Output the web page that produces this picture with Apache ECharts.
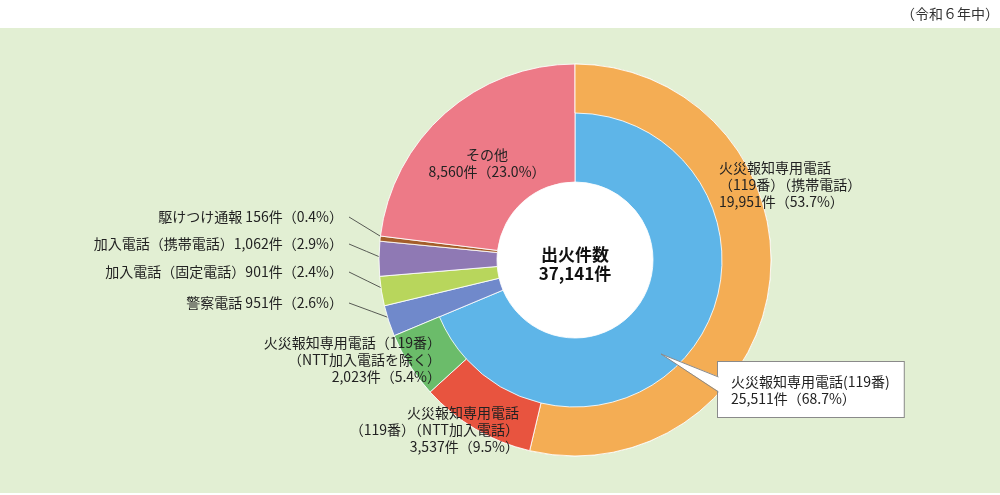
<!DOCTYPE html>
<html><head><meta charset="utf-8">
<script src="https://cdn.jsdelivr.net/npm/echarts@6/dist/echarts.min.js"></script>
<style>html,body{margin:0;padding:0;background:#fff}#c{width:1000px;height:495px}</style>
</head><body><div id="c"></div>
<script>
// ---- data ----
const totalLabel = '出火件数';
const totalCount = 37141;
const periodLabel = '（令和６年中）';

const innerNames = ['火災報知専用電話(119番)', '警察電話', '加入電話（固定電話）', '加入電話（携帯電話）', '駆けつけ通報', 'その他'];
const innerValues = [25511, 951, 901, 1062, 156, 8560];
const innerPercents = [68.7, 2.6, 2.4, 2.9, 0.4, 23.0];

const outerNames = ['火災報知専用電話\n（119番）（携帯電話）', '火災報知専用電話\n（119番）（NTT加入電話）', '火災報知専用電話（119番）\n（NTT加入電話を除く）'];
const outerValues = [19951, 3537, 2023];
const outerPercents = [53.7, 9.5, 5.4];

// ---- styles / layout ----
const innerColors = ['#5EB5E8', '#7089CB', '#B8D65C', '#8F79B4', '#A45E2A', '#ED7A87'];
const outerColors = ['#F4AD54', '#E8543F', '#6BBC6A'];
const CX = 575, CY = 260, R0 = 78, R1 = 147, R2 = 196;
const FONT = '"Noto Sans CJK JP", "Noto Sans", sans-serif';
const TXT = '#222';

const innerLabelPos = [
  {x: 718, y: 362, align: 'left', va: 'top'},
  {x: 343, y: 303, align: 'right', va: 'middle', line: true},
  {x: 343, y: 272, align: 'right', va: 'middle', line: true},
  {x: 343, y: 244, align: 'right', va: 'middle', line: true},
  {x: 343, y: 217, align: 'right', va: 'middle', line: true},
  {x: 487, y: 163, align: 'center', va: 'middle'}
];
const outerLabelPos = [
  {x: 719, y: 185, align: 'left', va: 'middle'},
  {x: 519, y: 430, align: 'right', va: 'middle'},
  {x: 441, y: 360, align: 'right', va: 'middle'}
];

const fmt = n => n.toLocaleString('en-US');
const valText = (v, p) => fmt(v) + '件（' + p.toFixed(1) + '%）';

const innerData = innerNames.map((n, i) => {
  let text;
  if (i === 0 || i === 5) text = n + '\n' + valText(innerValues[i], innerPercents[i]);
  else text = n + (n.endsWith('）') ? '' : ' ') + valText(innerValues[i], innerPercents[i]);
  const item = {name: n, value: innerValues[i], itemStyle: {color: innerColors[i]}, labelText: text};
  if (i === 5) item.label = {position: 'inside'};
  if (i === 0) item.label = {
    backgroundColor: '#fff', borderColor: '#8a8a8a', borderWidth: 1,
    padding: [11, 14, 10, 13], lineHeight: 17
  };
  if (innerLabelPos[i] && innerLabelPos[i].line) item.labelLine = {show: true};
  return item;
});

const fillerValue = innerValues.slice(1).reduce((a, b) => a + b, 0);
const outerData = outerNames.map((n, i) => ({
  name: n, value: outerValues[i], itemStyle: {color: outerColors[i]},
  labelText: n + '\n' + valText(outerValues[i], outerPercents[i])
}));
outerData.push({name: 'filler', value: fillerValue, itemStyle: {color: 'rgba(0,0,0,0)', borderWidth: 0},
  label: {show: false}, labelLine: {show: false}});

const chart = echarts.init(document.getElementById('c'), null, {renderer: 'canvas'});

chart.setOption({
  animation: false,
  graphic: [
    {type: 'rect', z: -10, shape: {x: 0, y: 28, width: 1000, height: 465}, style: {fill: '#E2EFD3'}},
    {type: 'circle', z: -5, shape: {cx: CX, cy: CY, r: R0 + 1}, style: {fill: '#fff'}},
    {type: 'polygon', z: 5, shape: {points: [[661, 354], [719.5, 377], [719.5, 392]]}, style: {fill: '#fff'}},
    {type: 'polyline', z: 6, shape: {points: [[718.5, 377], [661, 354], [718.5, 392]]}, style: {stroke: '#8a8a8a', lineWidth: 1, fill: null}},
    {type: 'text', z: 10, x: CX, y: CY + 4, style: {
      text: totalLabel + '\n' + fmt(totalCount) + '件', fill: '#111',
      font: 'bold 17px ' + FONT, lineHeight: 19, align: 'center', verticalAlign: 'middle'}},
    {type: 'text', z: 10, x: 999, y: 14, style: {
      text: periodLabel, fill: '#333', font: '14px ' + FONT, align: 'right', verticalAlign: 'middle'}}
  ],
  series: [
    {
      type: 'pie', center: [CX, CY], radius: [R0, R2], startAngle: 90, clockwise: true,
      avoidLabelOverlap: false, silent: true, emphasis: {disabled: true},
      itemStyle: {borderColor: 'rgba(255,255,255,0.85)', borderWidth: 1},
      label: {show: true, position: 'outside', color: TXT, fontSize: 14, lineHeight: 17, fontFamily: FONT,
        formatter: p => p.data.labelText},
      labelLine: {show: false, lineStyle: {color: '#333', width: 0.8}},
      labelLayout: function (params) {
        const pos = innerLabelPos[params.dataIndex];
        if (!pos) return {};
        const res = {x: pos.x, y: pos.y, align: pos.align, verticalAlign: pos.va};
        if (pos.line && params.labelLinePoints) {
          const a = params.labelLinePoints[0];
          const dx = a[0] - CX, dy = a[1] - CY, d = Math.sqrt(dx * dx + dy * dy);
          const k = (d - 5) / d;
          const start = [CX + dx * k, CY + dy * k];
          const end = [pos.x + 6, pos.y];
          res.labelLinePoints = [start, [(start[0] + end[0]) / 2, (start[1] + end[1]) / 2], end];
        }
        return res;
      },
      data: innerData
    },
    {
      type: 'pie', center: [CX, CY], radius: [R1, R2], startAngle: 90, clockwise: true,
      avoidLabelOverlap: false, silent: true, emphasis: {disabled: true},
      itemStyle: {borderColor: 'rgba(255,255,255,0.85)', borderWidth: 1},
      label: {show: true, position: 'inside', color: TXT, fontSize: 14, lineHeight: 17, fontFamily: FONT,
        formatter: p => p.data.labelText || ''},
      labelLine: {show: false},
      labelLayout: function (params) {
        const pos = outerLabelPos[params.dataIndex];
        if (!pos) return {};
        return {x: pos.x, y: pos.y, align: pos.align, verticalAlign: pos.va};
      },
      data: outerData
    }
  ]
});
</script>
</body></html>
